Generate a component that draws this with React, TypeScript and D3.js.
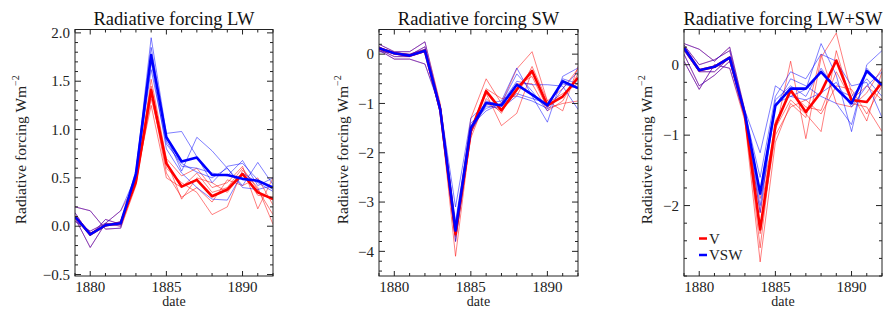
import { useRef, useEffect } from 'react';
import * as d3 from 'd3';

const years = [1879, 1880, 1881, 1882, 1883, 1884, 1885, 1886, 1887, 1888, 1889, 1890, 1891, 1892];
const xTicks = [1880, 1885, 1890];
const scenarios = ['V', 'VSW'];
const scenarioColors = ['#ff0000', '#0000ff'];

// --- LW: members share values before the eruption (1879-1882), then split (1883-1892)
const lwPre = [
  [0.20, 0.16, -0.03, -0.02],
  [0.085, -0.22, 0.03, 0.16],
  [0.05, -0.05, 0.03, 0.00],
  [0.10, -0.07, 0.00, 0.05],
  [0.14, -0.10, 0.07, 0.02],
];
const lwV = [
  [0.42, 1.52, 0.70, 0.52, 0.60, 0.40, 0.45, 0.62, 0.18, 0.50],
  [0.45, 1.45, 0.60, 0.45, 0.35, 0.12, 0.20, 0.58, 0.40, 0.02],
  [0.48, 1.38, 0.55, 0.30, 0.40, 0.25, 0.48, 0.42, 0.50, 0.22],
  [0.44, 1.32, 0.68, 0.28, 0.50, 0.45, 0.35, 0.55, 0.32, 0.30],
  [0.50, 1.25, 0.50, 0.40, 0.55, 0.35, 0.40, 0.60, 0.38, 0.12],
];
const lwVSW = [
  [0.55, 1.95, 0.96, 0.98, 0.72, 0.45, 0.62, 0.65, 0.48, 0.38],
  [0.52, 1.85, 0.93, 0.57, 0.92, 0.78, 0.60, 0.42, 0.66, 0.43],
  [0.58, 1.78, 0.88, 0.62, 0.60, 0.55, 0.52, 0.68, 0.42, 0.50],
  [0.50, 1.70, 0.80, 0.55, 0.40, 0.28, 0.27, 0.55, 0.45, 0.36],
  [0.54, 1.62, 0.85, 0.65, 0.56, 0.50, 0.60, 0.40, 0.38, 0.42],
];
const lwMeanV = [0.10, -0.085, 0.01, 0.03, 0.46, 1.41, 0.65, 0.41, 0.48, 0.31, 0.38, 0.54, 0.35, 0.28];
const lwMeanVSW = [0.10, -0.085, 0.01, 0.03, 0.54, 1.77, 0.92, 0.67, 0.71, 0.53, 0.53, 0.49, 0.47, 0.40];

// --- SW
const swPre = [
  [0.20, 0.05, 0.05, 0.25],
  [0.15, 0.00, -0.02, 0.15],
  [0.10, -0.05, -0.05, 0.05],
  [0.08, -0.10, -0.10, -0.20],
  [0.05, 0.03, 0.00, 0.10],
];
const swV = [
  [-1.00, -3.60, -1.30, -0.50, -1.00, -0.30, 0.05, -0.95, -1.15, -0.25],
  [-1.10, -3.80, -1.50, -0.80, -1.45, -1.20, -0.35, -1.00, -0.80, -0.60],
  [-1.15, -4.10, -1.60, -1.00, -1.15, -0.65, -0.45, -1.10, -1.00, -0.95],
  [-1.05, -3.50, -1.55, -0.70, -0.90, -0.85, -0.25, -0.95, -0.70, -0.30],
  [-1.20, -3.70, -1.70, -0.90, -1.20, -0.60, -0.60, -1.15, -0.95, -0.40],
];
const swVSW = [
  [-1.05, -3.10, -1.30, -1.00, -0.95, -0.28, -0.85, -1.38, -0.45, -0.28],
  [-1.10, -3.40, -1.40, -1.10, -1.00, -0.55, -0.62, -0.62, -0.65, -1.12],
  [-1.15, -3.60, -1.55, -1.05, -1.10, -0.85, -0.95, -1.10, -0.50, -0.60],
  [-1.10, -3.80, -1.60, -0.95, -1.05, -0.80, -0.90, -1.00, -0.60, -0.70],
  [-1.20, -3.50, -1.45, -1.15, -1.00, -0.40, -0.75, -1.15, -0.70, -0.35],
];
const swMeanV = [0.12, 0.02, -0.03, 0.07, -1.12, -3.65, -1.56, -0.75, -1.14, -0.72, -0.34, -1.04, -0.86, -0.48];
const swMeanVSW = [0.12, 0.02, -0.03, 0.07, -1.12, -3.58, -1.50, -0.99, -1.04, -0.62, -0.82, -1.04, -0.55, -0.69];

// --- LW+SW
const netPre = [
  [0.30, 0.22, 0.05, 0.25],
  [0.28, 0.00, 0.07, 0.20],
  [0.20, -0.10, -0.10, 0.10],
  [0.15, -0.30, -0.15, 0.05],
  [0.05, -0.35, 0.00, -0.05],
];
const netV = [
  [-0.65, -1.90, -0.95, 0.05, -1.05, 0.10, 0.45, -0.40, -0.80, -0.10],
  [-0.70, -2.10, -0.90, -0.50, -0.70, -0.95, 0.20, -0.55, -0.60, -0.95],
  [-0.75, -2.40, -1.00, -0.60, -0.50, -0.70, -0.30, -0.35, -0.70, -0.30],
  [-0.70, -2.60, -0.80, -0.40, -0.60, -0.65, -0.10, -0.50, -0.30, -0.50],
  [-0.80, -2.80, -1.10, -0.55, -0.75, 0.15, -0.55, -0.60, -0.40, -0.05],
];
const netVSW = [
  [-0.65, -1.25, -0.30, -0.45, -0.35, 0.30, -0.15, -0.95, 0.00, 0.20],
  [-0.68, -1.60, -0.45, -0.10, -0.20, 0.15, 0.05, -0.30, -0.25, -0.75],
  [-0.72, -1.80, -0.55, -0.45, -0.50, -0.40, -0.25, -0.60, -0.30, -0.10],
  [-0.70, -2.00, -0.60, -0.20, -0.30, -0.45, -0.55, -0.85, -0.05, -0.30],
  [-0.75, -2.10, -0.50, -0.30, -0.45, -0.05, -0.35, -0.45, -0.20, -0.45],
];
const netMeanV = [0.24, -0.08, -0.03, 0.10, -0.72, -2.34, -0.86, -0.36, -0.67, -0.39, 0.06, -0.50, -0.53, -0.25];
const netMeanVSW = [0.24, -0.08, -0.03, 0.10, -0.70, -1.83, -0.58, -0.34, -0.34, -0.10, -0.34, -0.55, -0.09, -0.29];

const panels = [
  {
    title: 'Radiative forcing LW', left: 75, right: 273, labelX: 26,
    domain: [-0.515, 2.035], ticks: [-0.5, 0, 0.5, 1, 1.5, 2], minor: 0.1, fmt: '.1f',
    pre: lwPre, v: lwV, vsw: lwVSW, meanV: lwMeanV, meanVSW: lwMeanVSW, legend: false,
  },
  {
    title: 'Radiative forcing SW', left: 379, right: 578, labelX: 348,
    domain: [-4.5, 0.5], ticks: [-4, -3, -2, -1, 0], minor: 0.2, fmt: 'd',
    pre: swPre, v: swV, vsw: swVSW, meanV: swMeanV, meanVSW: swMeanVSW, legend: false,
  },
  {
    title: 'Radiative forcing LW+SW', left: 684, right: 882, labelX: 652,
    domain: [-3, 0.5], ticks: [-2, -1, 0], minor: 0.25, fmt: 'd',
    pre: netPre, v: netV, vsw: netVSW, meanV: netMeanV, meanVSW: netMeanVSW, legend: true,
  },
];

const TOP = 29.5;
const BOTTOM = 276;
const FONT = "'Liberation Serif', 'DejaVu Serif', serif";

const App = () => {
  const svgRef = useRef(null);

  useEffect(() => {
    if (!svgRef.current) return;
    const svg = d3.select(svgRef.current);
    svg.selectAll('*').remove();

    panels.forEach((p, pi) => {
      const x = d3.scaleLinear().domain([1879, 1892]).range([p.left, p.right]);
      const y = d3.scaleLinear().domain(p.domain).range([BOTTOM, TOP]);
      const g = svg.append('g');

      const clipId = `clip-${pi}`;
      g.append('clipPath').attr('id', clipId)
        .append('rect')
        .attr('x', p.left).attr('y', TOP)
        .attr('width', p.right - p.left).attr('height', BOTTOM - TOP);

      const line = d3.line<number>()
        .x((d, i) => x(years[i]))
        .y(d => y(d));

      const lines = g.append('g').attr('clip-path', `url(#${clipId})`);

      const drawMembers = (post, color) => {
        post.forEach((vals, i) => {
          lines.append('path')
            .datum(p.pre[i].concat(vals))
            .attr('fill', 'none')
            .attr('stroke', color)
            .attr('stroke-opacity', 0.5)
            .attr('stroke-width', 1)
            .attr('d', line);
        });
      };
      drawMembers(p.v, scenarioColors[0]);
      drawMembers(p.vsw, scenarioColors[1]);

      [p.meanV, p.meanVSW].forEach((vals, i) => {
        lines.append('path')
          .datum(vals)
          .attr('fill', 'none')
          .attr('stroke', scenarioColors[i])
          .attr('stroke-width', 2.6)
          .attr('stroke-linejoin', 'round')
          .attr('d', line);
      });

      // box
      g.append('rect')
        .attr('x', p.left).attr('y', TOP)
        .attr('width', p.right - p.left).attr('height', BOTTOM - TOP)
        .attr('fill', 'none').attr('stroke', '#222').attr('stroke-width', 1);

      // x ticks (inward, top and bottom)
      years.forEach(yr => {
        const len = xTicks.includes(yr) ? 5 : 3;
        const xp = x(yr);
        g.append('line').attr('x1', xp).attr('x2', xp).attr('y1', BOTTOM).attr('y2', BOTTOM - len)
          .attr('stroke', '#222');
        g.append('line').attr('x1', xp).attr('x2', xp).attr('y1', TOP).attr('y2', TOP + len)
          .attr('stroke', '#222');
      });

      // y ticks
      const minorTicks = d3.range(
        Math.ceil(p.domain[0] / p.minor) * p.minor,
        p.domain[1] + 1e-9,
        p.minor
      );
      minorTicks.forEach(v => {
        const major = p.ticks.some(t => Math.abs(t - v) < 1e-6);
        const len = major ? 6 : 3;
        const yp = y(v);
        g.append('line').attr('x1', p.left).attr('x2', p.left + len).attr('y1', yp).attr('y2', yp)
          .attr('stroke', '#222');
        g.append('line').attr('x1', p.right).attr('x2', p.right - len).attr('y1', yp).attr('y2', yp)
          .attr('stroke', '#222');
      });

      const fmt = d3.format(p.fmt);
      g.selectAll('.ylab')
        .data(p.ticks)
        .enter()
        .append('text')
        .attr('x', p.left - 5)
        .attr('y', d => y(d))
        .attr('dy', '0.35em')
        .attr('text-anchor', 'end')
        .style('font-family', FONT)
        .style('font-size', '15px')
        .attr('fill', '#222')
        .text(d => fmt(d));

      g.selectAll('.xlab')
        .data(xTicks)
        .enter()
        .append('text')
        .attr('x', d => x(d))
        .attr('y', BOTTOM + 16)
        .attr('text-anchor', 'middle')
        .style('font-family', FONT)
        .style('font-size', '15px')
        .attr('fill', '#222')
        .text(d => d);

      g.append('text')
        .attr('x', (p.left + p.right) / 2)
        .attr('y', 306)
        .attr('text-anchor', 'middle')
        .style('font-family', FONT)
        .style('font-size', '14px')
        .attr('fill', '#222')
        .text('date');

      g.append('text')
        .attr('x', (p.left + p.right) / 2)
        .attr('y', 25)
        .attr('text-anchor', 'middle')
        .style('font-family', FONT)
        .style('font-size', '18.5px')
        .attr('fill', '#111')
        .text(p.title);

      const yl = g.append('text')
        .attr('transform', `translate(${p.labelX},${(TOP + BOTTOM) / 2 - 3}) rotate(-90)`)
        .attr('text-anchor', 'middle')
        .style('font-family', FONT)
        .style('font-size', '15.5px')
        .attr('fill', '#222');
      yl.append('tspan').text('Radiative forcing Wm');
      yl.append('tspan').attr('dy', -7).style('font-size', '10px').text('−2');

      if (p.legend) {
        scenarios.forEach((name, i) => {
          const ly = 238.5 + i * 16.5;
          g.append('line')
            .attr('x1', 699).attr('x2', 707).attr('y1', ly).attr('y2', ly)
            .attr('stroke', scenarioColors[i]).attr('stroke-width', 2.5);
          g.append('text')
            .attr('x', 709).attr('y', ly + 5)
            .style('font-family', FONT)
            .style('font-size', '15px')
            .attr('fill', '#222')
            .text(name);
        });
      }
    });
  }, []);

  return (
    <svg
      ref={svgRef}
      width={886}
      height={309}
      style={{ position: 'absolute', left: 0, top: 0, background: '#fff' }}
    />
  );
};

export default App;
